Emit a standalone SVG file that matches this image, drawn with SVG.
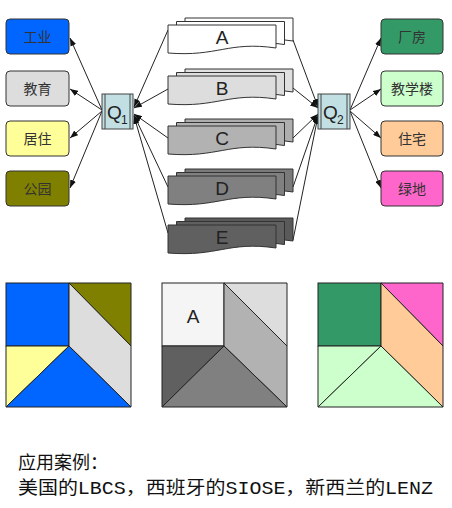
<svg xmlns="http://www.w3.org/2000/svg" width="452" height="508" viewBox="0 0 452 508">
<style>
.box{stroke:#333;stroke-width:1}
.lbl{font-family:"Noto Sans CJK SC","Noto Sans",sans-serif;font-size:14px;fill:#333;text-anchor:middle}
.q{fill:#C2DFE3;stroke:#444;stroke-width:1}
.qt{font-family:"Liberation Sans",Arial,sans-serif;fill:#222}
.sh{stroke:#333;stroke-width:1}
.ln{stroke:#222;stroke-width:1;fill:none;marker-end:url(#ah)}
.pc{stroke:#222;stroke-width:1}
.big{font-family:"Liberation Sans",Arial,sans-serif;font-size:19px;fill:#222;text-anchor:middle}
.cap{font-family:"Liberation Mono","Noto Sans CJK SC",monospace;font-size:18px;fill:#111}
</style>
<defs>
<marker id="ah" markerUnits="userSpaceOnUse" markerWidth="8" markerHeight="6" refX="8" refY="3" orient="auto">
<path d="M0,0 L8,3 L0,6 z" fill="#111"/>
</marker>
<path id="doc" d="M0,0 H108 V23 C60,16 50,32 0,28 Z"/>
</defs>
<rect width="452" height="508" fill="#fff"/>

<g id="connectors">
<line class="ln" x1="102" y1="110" x2="70" y2="38"/>
<line class="ln" x1="102" y1="110" x2="70" y2="89"/>
<line class="ln" x1="102" y1="111" x2="70" y2="138"/>
<line class="ln" x1="102" y1="111" x2="70" y2="188"/>
<line class="ln" x1="168" y1="30" x2="134" y2="107"/>
<line class="ln" x1="168" y1="89" x2="134" y2="108"/>
<line class="ln" x1="168" y1="138" x2="134" y2="114"/>
<line class="ln" x1="168" y1="187" x2="134" y2="115"/>
<line class="ln" x1="168" y1="233" x2="134" y2="116"/>
<line class="ln" x1="293" y1="40" x2="318" y2="107"/>
<line class="ln" x1="293" y1="88" x2="318" y2="108"/>
<line class="ln" x1="293" y1="138" x2="318" y2="114"/>
<line class="ln" x1="293" y1="187" x2="318" y2="115"/>
<line class="ln" x1="293" y1="240" x2="318" y2="116"/>
<line class="ln" x1="350" y1="110" x2="381" y2="38"/>
<line class="ln" x1="350" y1="110" x2="381" y2="89"/>
<line class="ln" x1="350" y1="111" x2="381" y2="138"/>
<line class="ln" x1="350" y1="111" x2="381" y2="188"/>
</g>

<g id="n-gongye"><rect class="box" x="6" y="19" width="63" height="35" rx="4" fill="#0066FF"/><text class="lbl" x="37.5" y="41.5">工业</text></g>
<g id="n-jiaoyu"><rect class="box" x="6" y="71" width="63" height="35" rx="4" fill="#DDDDDD"/><text class="lbl" x="37.5" y="93.5">教育</text></g>
<g id="n-juzhu"><rect class="box" x="6" y="121" width="63" height="35" rx="4" fill="#FFFF99"/><text class="lbl" x="37.5" y="143.5">居住</text></g>
<g id="n-gongyuan"><rect class="box" x="6" y="171" width="63" height="35" rx="4" fill="#808000"/><text class="lbl" x="37.5" y="193.5">公园</text></g>

<g id="n-changfang"><rect class="box" x="381" y="19" width="62" height="35" rx="4" fill="#339966"/><text class="lbl" x="412" y="41.5">厂房</text></g>
<g id="n-jiaoxuelou"><rect class="box" x="381" y="71" width="62" height="35" rx="4" fill="#CCFFCC"/><text class="lbl" x="412" y="93.5">教学楼</text></g>
<g id="n-zhuzhai"><rect class="box" x="381" y="121" width="62" height="35" rx="4" fill="#FFCC99"/><text class="lbl" x="412" y="143.5">住宅</text></g>
<g id="n-lvdi"><rect class="box" x="381" y="171" width="62" height="35" rx="4" fill="#FF66CC"/><text class="lbl" x="412" y="193.5">绿地</text></g>

<g id="n-q1"><rect class="q" x="102" y="94" width="31" height="35"/><line x1="105" y1="94" x2="105" y2="129" stroke="#444"/><line x1="130" y1="94" x2="130" y2="129" stroke="#444"/><text class="qt" x="107" y="119" font-size="19">Q</text><text class="qt" x="121" y="124" font-size="12">1</text></g>
<g id="n-q2"><rect class="q" x="318" y="94" width="32" height="35"/><line x1="321" y1="94" x2="321" y2="129" stroke="#444"/><line x1="347" y1="94" x2="347" y2="129" stroke="#444"/><text class="qt" x="323" y="119" font-size="19">Q</text><text class="qt" x="337" y="124" font-size="12">2</text></g>

<g id="n-a">
<use href="#doc" class="sh" x="185" y="18" fill="#FFFFFF"/>
<use href="#doc" class="sh" x="176.5" y="21.5" fill="#FFFFFF"/>
<use href="#doc" class="sh" x="168" y="25" fill="#FFFFFF"/>
<text class="big" x="222" y="44">A</text>
</g>
<g id="n-b">
<use href="#doc" class="sh" x="185" y="69" fill="#E0E0E0"/>
<use href="#doc" class="sh" x="176.5" y="72.5" fill="#DDDDDD"/>
<use href="#doc" class="sh" x="168" y="76" fill="#DDDDDD"/>
<text class="big" x="222" y="95">B</text>
</g>
<g id="n-c">
<use href="#doc" class="sh" x="185" y="119" fill="#AEAEAE"/>
<use href="#doc" class="sh" x="176.5" y="122.5" fill="#B2B2B2"/>
<use href="#doc" class="sh" x="168" y="126" fill="#B2B2B2"/>
<text class="big" x="222" y="145">C</text>
</g>
<g id="n-d">
<use href="#doc" class="sh" x="185" y="169" fill="#7A7A7A"/>
<use href="#doc" class="sh" x="176.5" y="172.5" fill="#808080"/>
<use href="#doc" class="sh" x="168" y="176" fill="#808080"/>
<text class="big" x="222" y="195">D</text>
</g>
<g id="n-e">
<use href="#doc" class="sh" x="185" y="218" fill="#5A5A5A"/>
<use href="#doc" class="sh" x="176.5" y="221.5" fill="#606060"/>
<use href="#doc" class="sh" x="168" y="225" fill="#606060"/>
<text class="big" x="222" y="244">E</text>
</g>

<g id="square1">
<rect class="pc" x="6" y="283" width="63" height="63" fill="#0066FF"/>
<polygon class="pc" points="69,283 131,283 131,346" fill="#808000"/>
<polygon class="pc" points="69,283 131,346 131,407 69,346" fill="#DDDDDD"/>
<polygon class="pc" points="6,346 69,346 6,407" fill="#FFFF99"/>
<polygon class="pc" points="6,407 69,346 131,407" fill="#0066FF"/>
</g>
<g id="square2">
<rect class="pc" x="162" y="283" width="62" height="63" fill="#F5F5F5"/>
<polygon class="pc" points="224,283 287,283 287,346" fill="#DDDDDD"/>
<polygon class="pc" points="224,283 287,346 287,407 224,346" fill="#B2B2B2"/>
<polygon class="pc" points="162,346 224,346 162,407" fill="#606060"/>
<polygon class="pc" points="162,407 224,346 287,407" fill="#808080"/>
<text class="big" x="193" y="323">A</text>
</g>
<g id="square3">
<rect class="pc" x="318" y="283" width="63" height="63" fill="#339966"/>
<polygon class="pc" points="381,283 443,283 443,346" fill="#FF66CC"/>
<polygon class="pc" points="381,283 443,346 443,407 381,346" fill="#FFCC99"/>
<polygon class="pc" points="318,346 381,346 318,407" fill="#CCFFCC"/>
<polygon class="pc" points="318,407 381,346 443,407" fill="#CCFFCC"/>
</g>

<text class="cap" x="18" y="469">应用案例：</text>
<text class="cap" x="18" y="494" textLength="415" lengthAdjust="spacingAndGlyphs">美国的LBCS，西班牙的SIOSE，新西兰的LENZ</text>
</svg>
